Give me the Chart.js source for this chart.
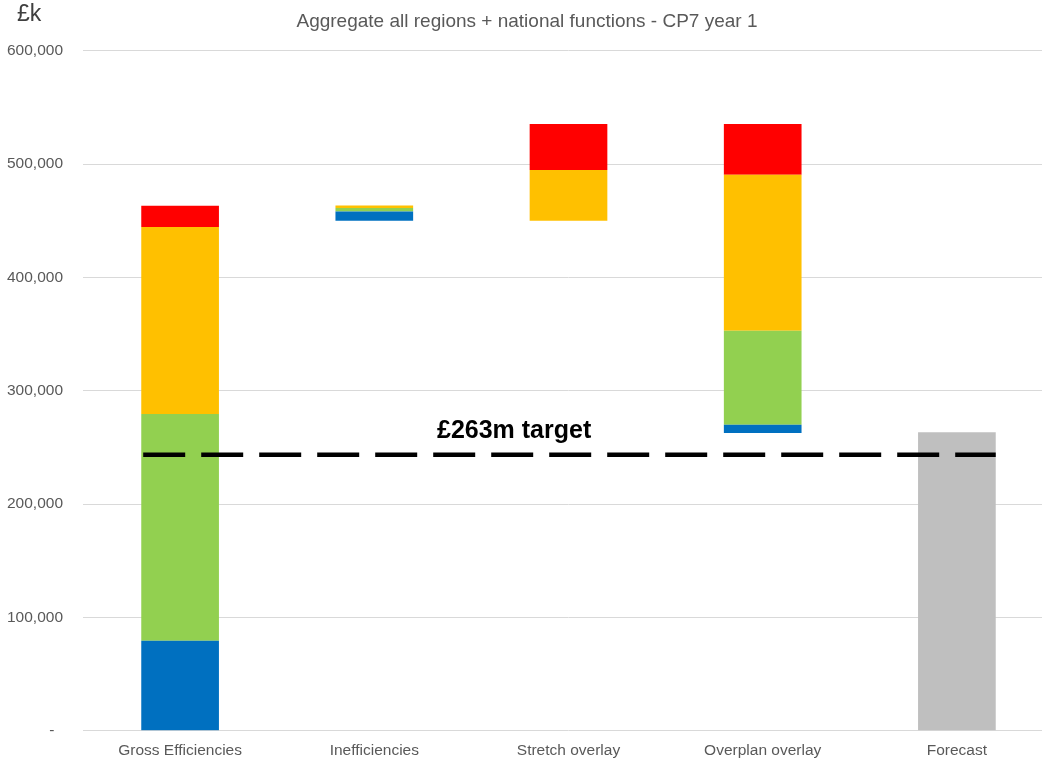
<!DOCTYPE html>
<html>
<head>
<meta charset="utf-8">
<script src="https://cdn.jsdelivr.net/npm/chart.js@4/dist/chart.umd.min.js"></script>
<style>
  html, body { margin: 0; padding: 0; background: #fff; overflow: hidden; }
  #wrap { width: 1060px; height: 760px; }
</style>
</head>
<body>
<div id="wrap"><canvas id="c" width="1060" height="760"></canvas></div>
<script>
// ---- Data (values in £k) ----
const categories = ['Gross Efficiencies', 'Inefficiencies', 'Stretch overlay', 'Overplan overlay', 'Forecast'];
// floating segments [low, high] per category (null = none)
const blueSeg   = [[0, 79400], [450000, 458200], null, [262700, 270000], null];
const greenSeg  = [[79400, 279400], [458200, 461200], null, [270000, 352900], null];
const yellowSeg = [[279400, 444400], [461200, 463500], [450000, 494700], [352900, 490600], null];
const redSeg    = [[444400, 463200], null, [494700, 535300], [490600, 535300], null];
const greySeg   = [null, null, null, null, [0, 263300]];
const targetValue = 243500;
const targetLabel = '£263m target';
const yTicks = [0, 100000, 200000, 300000, 400000, 500000, 600000];
const chartTitle = 'Aggregate all regions + national functions - CP7 year 1';
const unitLabel = '£k';

const FONT = '"Liberation Sans", Arial, Helvetica, sans-serif';

const textPlugin = {
  id: 'textPlugin',
  afterDatasetsDraw(chart) {
    const ctx = chart.ctx;
    const y = chart.scales.y, x2 = chart.scales.x2;
    ctx.save();
    ctx.fillStyle = '#000';
    ctx.font = 'bold 25px ' + FONT;
    ctx.textAlign = 'center';
    ctx.textBaseline = 'alphabetic';
    ctx.fillText(targetLabel, x2.getPixelForValue(1.72), y.getPixelForValue(targetValue) - 17);
    ctx.fillStyle = '#404040';
    ctx.font = '23px ' + FONT;
    ctx.textAlign = 'left';
    ctx.fillText(unitLabel, 17, 21);
    ctx.restore();
  }
};

const mk = (label, data, color) => ({
  label, data, backgroundColor: color, borderWidth: 0,
  grouped: false, barPercentage: 0.4, categoryPercentage: 1.0,
  xAxisID: 'x', yAxisID: 'y'
});

new Chart(document.getElementById('c'), {
  type: 'bar',
  data: {
    labels: categories,
    datasets: [
      {
        type: 'line', label: 'Target',
        data: [{x: -0.19, y: targetValue}, {x: 4.2, y: targetValue}],
        xAxisID: 'x2', yAxisID: 'y',
        borderColor: '#000', borderWidth: 4.5, borderDash: [42, 16],
        pointRadius: 0, fill: false, order: -1
      },
      mk('Blue', blueSeg, '#0070C0'),
      mk('Green', greenSeg, '#92D050'),
      mk('Yellow', yellowSeg, '#FFC000'),
      mk('Red', redSeg, '#FF0000'),
      mk('Forecast', greySeg, '#BFBFBF')
    ]
  },
  options: {
    responsive: false,
    animation: false,
    devicePixelRatio: 1,
    layout: { padding: { left: 0, right: 6, top: 0, bottom: 0 } },
    plugins: {
      legend: { display: false },
      tooltip: { enabled: false },
      title: {
        display: true, text: chartTitle, color: '#595959',
        font: { family: FONT, size: 19, weight: 'normal' },
        padding: { top: 10, bottom: 18 }
      }
    },
    scales: {
      x: {
        type: 'category', offset: true,
        grid: { display: false, drawTicks: false },
        border: { display: false },
        ticks: { color: '#595959', font: { family: FONT, size: 15.5 }, padding: 11 },
        afterFit(scale) { scale.height = 29; }
      },
      x2: {
        type: 'linear', display: false, offset: false, min: -0.5, max: 4.5, position: 'bottom'
      },
      y: {
        min: 0, max: 600000,
        afterBuildTicks(scale) { scale.ticks = yTicks.map(v => ({ value: v })); },
        afterFit(scale) { scale.width = 83; },
        grid: { color: '#D9D9D9', lineWidth: 1, drawTicks: false },
        border: { display: false },
        ticks: {
          color: '#595959', font: { family: FONT, size: 15.5 }, padding: 20,
          callback: v => v === 0 ? '-\u2007' : v.toLocaleString('en-GB')
        }
      }
    }
  },
  plugins: [textPlugin]
});
</script>
</body>
</html>
